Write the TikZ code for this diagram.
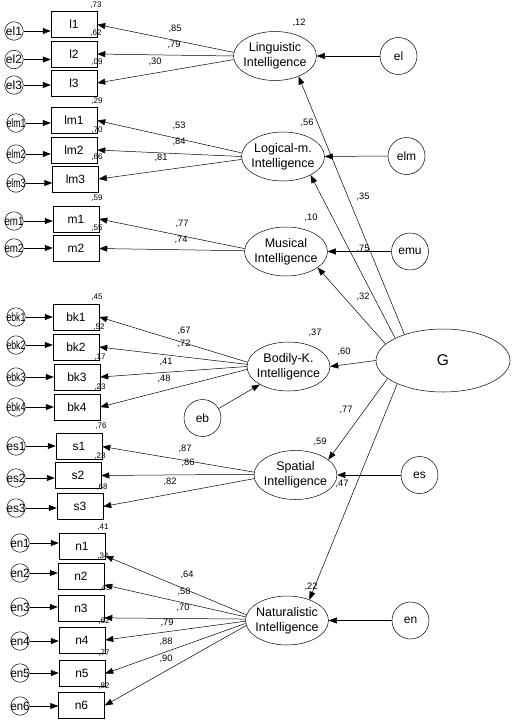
\documentclass[tikz,border=0pt]{standalone}
\usepackage{fontspec}
\setmainfont{Liberation Sans}
\usetikzlibrary{arrows.meta,shapes.geometric}
\newsavebox\errbox
\newcommand\errt[1]{\sbox\errbox{#1}\ifdim\wd\errbox>19pt\resizebox{19pt}{\ht\errbox}{\usebox\errbox}\else\usebox\errbox\fi}
\newcommand\twol[2]{\makebox[0pt]{\begin{tabular}{@{}c@{}}#1\\#2\end{tabular}}}
\tikzset{
 obs/.style={draw, rectangle, minimum width=46pt, minimum height=26pt, inner sep=0pt, line width=0.5pt, font=\fontsize{12}{14}\selectfont},
 lat/.style={draw, ellipse, minimum width=83pt, minimum height=49pt, inner sep=0pt, line width=0.5pt, font=\fontsize{12.5}{15}\selectfont},
 errs/.style={draw, circle, minimum size=18.5pt, inner sep=0pt, line width=0.5pt, font=\fontsize{12}{14}\selectfont},
 errl/.style={draw, circle, minimum size=37pt, inner sep=0pt, line width=0.5pt, font=\fontsize{12}{14}\selectfont},
 arr/.style={draw, line width=0.5pt, -{Triangle[length=8pt,width=6pt]}},
 coef/.style={inner sep=0pt, font=\fontsize{9.3}{10}\selectfont},
 varl/.style={inner sep=0pt, font=\fontsize{8}{9}\selectfont},
}
\begin{document}
\begin{tikzpicture}[x=1pt,y=-1pt]
\useasboundingbox (0,0) rectangle (513,721);
% latent factors
\node[lat] (Ling) at (275,56) {\twol{Linguistic}{Intelligence}};
\node[lat] (Log) at (283,156.5) {\twol{Logical-m.}{Intelligence}};
\node[lat] (Mus) at (286,251.5) {\twol{Musical}{Intelligence}};
\node[lat] (Bod) at (288.5,366.5) {\twol{Bodily-K.}{Intelligence}};
\node[lat] (Spa) at (295.5,475) {\twol{Spatial}{Intelligence}};
\node[lat] (Nat) at (287,620.5) {\twol{Naturalistic}{Intelligence}};
\node[lat, minimum width=134pt, minimum height=63pt, font=\fontsize{15.5}{17}\selectfont] (G) at (443,360.5) {G};
% factor errors
\node[errl] (el) at (398.5,56) {el};
\node[errl] (elm) at (406.5,156) {elm};
\node[errl] (emu) at (410,251.5) {emu};
\node[errl] (eb) at (202.5,418) {eb};
\node[errl] (es) at (419.5,475) {es};
\node[errl] (en) at (410.5,620.5) {en};
% indicators
\node[obs] (l1) at (74,24.5) {l1};
\node[obs] (l2) at (74,54) {l2};
\node[obs] (l3) at (74,83) {l3};
\node[obs] (lm1) at (74,120.5) {lm1};
\node[obs] (lm2) at (74,150) {lm2};
\node[obs] (lm3) at (75.5,179) {lm3};
\node[obs] (m1) at (76,219) {m1};
\node[obs] (m2) at (76,248.5) {m2};
\node[obs] (bk1) at (76,317) {bk1};
\node[obs] (bk2) at (76,347) {bk2};
\node[obs] (bk3) at (77,377) {bk3};
\node[obs] (bk4) at (77,407) {bk4};
\node[obs] (s1) at (79,446.5) {s1};
\node[obs] (s2) at (78,475.5) {s2};
\node[obs] (s3) at (80,506.5) {s3};
\node[obs] (n1) at (82,546) {n1};
\node[obs] (n2) at (81,576) {n2};
\node[obs] (n3) at (81,608.5) {n3};
\node[obs] (n4) at (82,640) {n4};
\node[obs] (n5) at (82,673.5) {n5};
\node[obs] (n6) at (81.5,705.5) {n6};
% indicator errors
\foreach \n/\x/\y/\b in {el1/14/31/l1, el2/14/59.5/l2, el3/14/85/l3,
  elm1/16/123/lm1, elm2/16/154/lm2, elm3/16/183/lm3,
  em1/14/221/m1, em2/14/248/m2,
  ebk1/16/317/bk1, ebk2/16/345/bk2, ebk3/16/377/bk3, ebk4/16/407/bk4,
  es1/16/446/s1, es2/16/478/s2, es3/16/508/s3,
  en1/20/543/n1, en2/20/573/n2, en3/20/607/n3, en4/20/641/n4, en5/20/673/n5, en6/20/706/n6}{
  \node[errs] (\n) at (\x,\y) {\makebox[0pt]{\errt{\n}}};
  \draw[arr] (\n) -- (\n -| \b.west);
}
% factor -> indicators
\draw[arr] (Ling.175) -- (l1.east);
\draw[arr] (Ling.180) -- (l2.east);
\draw[arr] (Ling.185) -- (l3.east);
\draw[arr] (Log.175) -- (lm1.east);
\draw[arr] (Log.180) -- (lm2.east);
\draw[arr] (Log.184) -- (lm3.east);
\draw[arr] (Mus.176) -- (m1.east);
\draw[arr] (Mus.179) -- (m2.east);
\draw[arr] (Bod.174) -- (bk1.east);
\draw[arr] (Bod.177) -- (bk2.east);
\draw[arr] (Bod.180) -- (bk3.east);
\draw[arr] (Bod.184) -- (bk4.east);
\draw[arr] (Spa.176) -- (s1.east);
\draw[arr] (Spa.179) -- (s2.east);
\draw[arr] (Spa.185) -- (s3.east);
\draw[arr] (Nat.172) -- (n1.-23);
\draw[arr] (Nat.175) -- (n2.-21);
\draw[arr] (Nat.178) -- (n3.-22);
\draw[arr] (Nat.181) -- (n4.east);
\draw[arr] (Nat.184) -- (n5.east);
\draw[arr] (Nat.187) -- (n6.east);
% G -> factors
\draw[arr] (G.146) -- (Ling.-41);
\draw[arr] (G.155) -- (Log.-34);
\draw[arr] (G.164) -- (Mus.-27);
\draw[arr] (G.west) -- (Bod.east);
\draw[arr] (G.198) -- (Spa.25);
\draw[arr] (G.207) -- (Nat.43);
% errors -> factors
\draw[arr] (el.west) -- (Ling.east);
\draw[arr] (elm.west) -- (Log.east);
\draw[arr] (emu.west) -- (Mus.east);
\draw[arr] (eb) -- (Bod.212);
\draw[arr] (es.west) -- (Spa.east);
\draw[arr] (en.west) -- (Nat.east);
% loadings
\node[coef] (c1) at (175,29) {,85};
\node[coef] (c2) at (174,45) {,79};
\node[coef] (c3) at (155,62) {,30};
\node[coef] (c4) at (179,126) {,53};
\node[coef] (c5) at (179,142) {,84};
\node[coef] (c6) at (161,158) {,81};
\node[coef] (c7) at (182,224) {,77};
\node[coef] (c8) at (181,240) {,74};
\node[coef] (c9) at (184,331) {,67};
\node[coef] (c10) at (184,344) {,72};
\node[coef] (c11) at (166,362) {,41};
\node[coef] (c12) at (164,379) {,48};
\node[coef] (c13) at (185,449) {,87};
\node[coef] (c14) at (188,463) {,86};
\node[coef] (c15) at (170,482) {,82};
\node[coef] (c16) at (187,575) {,64};
\node[coef] (c17) at (184,592) {,58};
\node[coef] (c18) at (183,608) {,70};
\node[coef] (c19) at (167,623) {,79};
\node[coef] (c20) at (166,642) {,88};
\node[coef] (c21) at (166,659) {,90};
% structural coefficients and factor R2
\node[coef] (r1) at (299,23) {,12};
\node[coef] (r2) at (307,123) {,56};
\node[coef] (g1) at (363,197) {,35};
\node[coef] (r3) at (311,218) {,10};
\node[coef] (g2) at (363,249) {,75};
\node[coef] (g3) at (363,297) {,32};
\node[coef] (r4) at (315,333) {,37};
\node[coef] (g4) at (344,352) {,60};
\node[coef] (g5) at (346,410) {,77};
\node[coef] (r5) at (320,442) {,59};
\node[coef] (g6) at (342,484) {,47};
\node[coef] (r6) at (311,587) {,22};
% indicator R2
\node[varl] (v1) at (96,5) {,73};
\node[varl] (v2) at (96,33) {,62};
\node[varl] (v3) at (97,62) {,09};
\node[varl] (v4) at (97,101) {,29};
\node[varl] (v5) at (97,130) {,70};
\node[varl] (v6) at (97,157) {,66};
\node[varl] (v7) at (97,198) {,59};
\node[varl] (v8) at (97,228) {,55};
\node[varl] (v9) at (97,297) {,45};
\node[varl] (v10) at (99,327) {,52};
\node[varl] (v11) at (100,357) {,17};
\node[varl] (v12) at (100,387) {,23};
\node[varl] (v13) at (101,426) {,76};
\node[varl] (v14) at (100,456) {,23};
\node[varl] (v15) at (102,487) {,68};
\node[varl] (v16) at (103,527) {,41};
\node[varl] (v17) at (103,556) {,34};
\node[varl] (v18) at (105,588) {,49};
\node[varl] (v19) at (104,621) {,62};
\node[varl] (v20) at (104,653) {,77};
\node[varl] (v21) at (104,686) {,82};
\end{tikzpicture}
\end{document}
